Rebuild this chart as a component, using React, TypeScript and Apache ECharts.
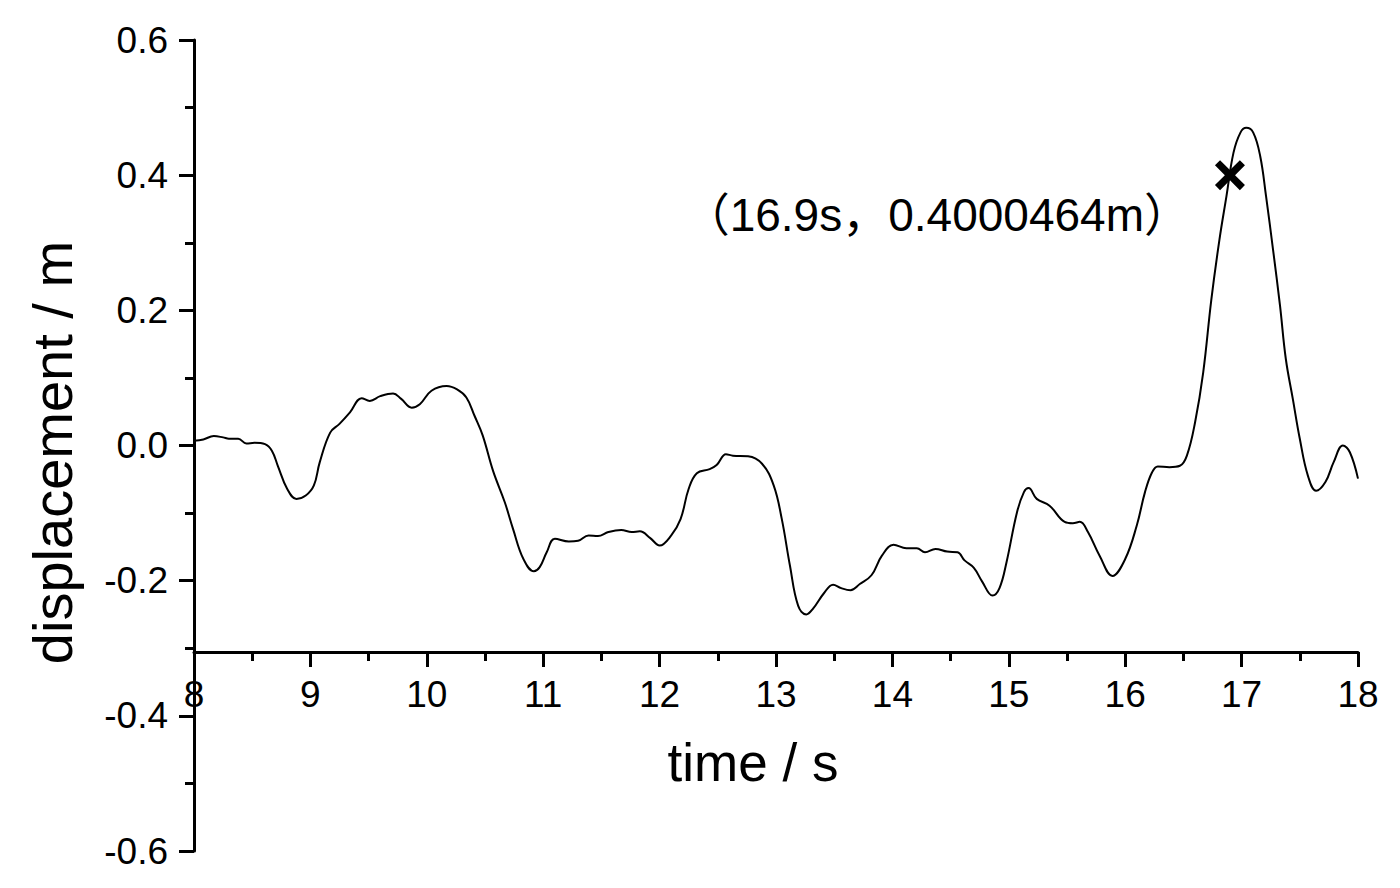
import React, { useEffect, useRef } from "react";
import * as echarts from "echarts";

const timeS: number[] = [
  8.0, 8.08, 8.17, 8.25, 8.3, 8.38, 8.45, 8.52, 8.61, 8.67, 8.72, 8.8, 8.88, 8.96,
  9.03, 9.08, 9.17, 9.25, 9.34, 9.44, 9.51, 9.6, 9.71, 9.78, 9.87, 9.94,
  10.04, 10.17, 10.26, 10.34, 10.41, 10.48, 10.57, 10.67, 10.74, 10.83, 10.92, 10.97,
  11.03, 11.1, 11.22, 11.3, 11.39, 11.47, 11.56, 11.67, 11.76, 11.83, 11.92,
  12.0, 12.1, 12.18, 12.25, 12.32, 12.43, 12.49, 12.57, 12.63, 12.76, 12.88, 12.98,
  13.05, 13.12, 13.19, 13.26, 13.32, 13.41, 13.49, 13.56, 13.64, 13.72, 13.82, 13.91,
  14.01, 14.12, 14.21, 14.28, 14.37, 14.47, 14.56, 14.62, 14.7, 14.77, 14.86, 14.92, 14.98,
  15.07, 15.13, 15.17, 15.24, 15.35, 15.48, 15.55, 15.61, 15.68, 15.78, 15.89,
  16.0, 16.1, 16.17, 16.23, 16.28, 16.38, 16.47, 16.53, 16.6, 16.67, 16.74, 16.81, 16.87, 16.93, 16.99,
  17.04, 17.1, 17.16, 17.21, 17.27, 17.33, 17.38, 17.44, 17.5, 17.57, 17.64, 17.72, 17.79, 17.87, 17.93,
  18.0,
];

const displacementM: number[] = [
  0.007, 0.009, 0.014, 0.012, 0.01, 0.01, 0.003, 0.004, 0.002, -0.008, -0.03, -0.064, -0.079, -0.074,
  -0.059, -0.025, 0.019, 0.032, 0.049, 0.07, 0.066, 0.073, 0.077, 0.069, 0.056, 0.061,
  0.081, 0.088, 0.083, 0.071, 0.044, 0.015, -0.038, -0.084, -0.123, -0.168, -0.186, -0.18,
  -0.158, -0.138, -0.142, -0.141, -0.133, -0.134, -0.128, -0.125, -0.128, -0.127, -0.137,
  -0.148, -0.133, -0.109, -0.064, -0.041, -0.035, -0.029, -0.013, -0.015, -0.016, -0.027, -0.059,
  -0.109, -0.178, -0.237, -0.25, -0.241, -0.219, -0.206, -0.211, -0.214, -0.205, -0.192, -0.163,
  -0.147, -0.152, -0.152, -0.158, -0.153, -0.157, -0.158, -0.17, -0.181, -0.201, -0.222, -0.211, -0.173,
  -0.099, -0.069, -0.063, -0.079, -0.089, -0.113, -0.115, -0.113, -0.128, -0.163, -0.193,
  -0.168, -0.118, -0.069, -0.04, -0.031, -0.032, -0.03, -0.015, 0.034, 0.108, 0.216, 0.305, 0.369, 0.433, 0.463,
  0.47, 0.463, 0.428, 0.369, 0.29, 0.207, 0.128, 0.069, 0.01, -0.045, -0.067, -0.054, -0.025, 0.0, -0.01,
  -0.049,
];

const markedPoint: [number, number] = [16.9, 0.4000464];
const markedLabel = "（16.9s，0.4000464m）";

const xAxisName = "time / s";
const yAxisName = "displacement / m";

const FONT = "'Liberation Sans', Arial, 'Noto Sans CJK SC', sans-serif";

export default function App() {
  const ref = useRef<HTMLDivElement>(null);

  useEffect(() => {
    if (!ref.current) return;
    const chart = echarts.init(ref.current, null, { renderer: "svg" });
    const lineData = timeS.map((t, i) => [t, displacementM[i]]);
    const axisLineStyle = { color: "#000", width: 3 };

    chart.setOption({
      animation: false,
      backgroundColor: "#fff",
      textStyle: { fontFamily: FONT, color: "#000" },
      grid: [
        { left: 194, right: 42, top: 40, bottom: 37 },
        { left: 194, right: 42, top: 40, height: 612 },
      ],
      xAxis: [
        { gridIndex: 0, type: "value", min: 8, max: 18, show: false },
        {
          gridIndex: 1,
          type: "value",
          min: 8,
          max: 18,
          interval: 1,
          position: "bottom",
          axisLine: { show: true, onZero: false, lineStyle: axisLineStyle },
          axisTick: { show: true, length: 15, inside: false, lineStyle: axisLineStyle },
          minorTick: { show: true, splitNumber: 2, length: 9, lineStyle: axisLineStyle },
          splitLine: { show: false },
          axisLabel: { fontSize: 37, color: "#000", margin: 24, fontFamily: FONT },
          name: xAxisName,
          nameLocation: "middle",
          nameGap: 84,
          nameTextStyle: { fontSize: 53, color: "#000", fontFamily: FONT, padding: [0, 46, 0, 0] },
        },
      ],
      yAxis: [
        {
          gridIndex: 0,
          type: "value",
          min: -0.6,
          max: 0.6,
          interval: 0.2,
          axisLine: { show: true, onZero: false, lineStyle: axisLineStyle },
          axisTick: { show: true, length: 15, inside: false, lineStyle: axisLineStyle },
          minorTick: { show: true, splitNumber: 2, length: 9, lineStyle: axisLineStyle },
          splitLine: { show: false },
          axisLabel: {
            fontSize: 37,
            color: "#000",
            margin: 26,
            fontFamily: FONT,
            formatter: (v: number) => v.toFixed(1),
          },
          name: yAxisName,
          nameLocation: "middle",
          nameGap: 114,
          nameTextStyle: { fontSize: 56, color: "#000", fontFamily: FONT, padding: [0, 14, 0, 0] },
        },
        { gridIndex: 1, type: "value", min: -0.3, max: 0.6, show: false },
      ],
      series: [
        {
          type: "line",
          xAxisIndex: 0,
          yAxisIndex: 0,
          data: lineData,
          smooth: 0.4,
          showSymbol: false,
          lineStyle: { color: "#000", width: 2 },
          silent: true,
        },
        {
          type: "scatter",
          xAxisIndex: 0,
          yAxisIndex: 0,
          data: [markedPoint],
          symbol:
            "path://M0,1.7L1.7,0L5,3.3L8.3,0L10,1.7L6.7,5L10,8.3L8.3,10L5,6.7L1.7,10L0,8.3L3.3,5Z",
          symbolSize: 30,
          itemStyle: { color: "#000", opacity: 1 },
          label: {
            show: true,
            position: "inside",
            align: "right",
            verticalAlign: "middle",
            offset: [-40, 40],
            fontSize: 46,
            color: "#000",
            opacity: 1,
            fontFamily: FONT,
            formatter: () => markedLabel,
          },
          silent: true,
        },
      ],
    });

    return () => chart.dispose();
  }, []);

  return (
    <div
      ref={ref}
      style={{ position: "fixed", left: 0, top: 0, width: 1400, height: 888 }}
    />
  );
}
